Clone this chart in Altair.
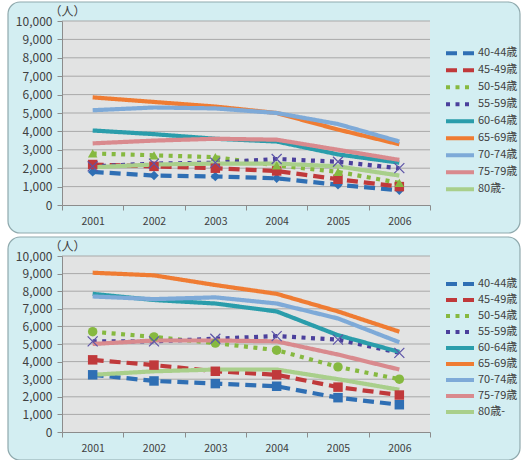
import altair as alt
import pandas as pd

years = [2001, 2002, 2003, 2004, 2005, 2006]
series = ['40-44歳', '45-49歳', '50-54歳', '55-59歳', '60-64歳',
          '65-69歳', '70-74歳', '75-79歳', '80歳-']
colors = ['#2f6fb4', '#c0393b', '#86b940', '#4b409c', '#2a9dab',
          '#ef7c33', '#7eaad8', '#d98a8e', '#a9cf8b']
dash_dashed = [11, 6]
dash_dotted = [4, 5.5]
dash_solid = [1, 0]
dashes = [dash_dashed, dash_dashed, dash_dotted, dash_dotted,
          dash_solid, dash_solid, dash_solid, dash_solid, dash_solid]

top_values = {
    '40-44歳': [1800, 1600, 1550, 1450, 1100, 800],
    '45-49歳': [2200, 2100, 2000, 1850, 1400, 1000],
    '50-54歳': [2800, 2700, 2600, 2150, 1800, 1200],
    '55-59歳': [2100, 2250, 2300, 2500, 2350, 2000],
    '60-64歳': [4050, 3850, 3600, 3450, 2750, 2300],
    '65-69歳': [5850, 5600, 5350, 5000, 4100, 3300],
    '70-74歳': [5150, 5300, 5250, 5000, 4400, 3450],
    '75-79歳': [3350, 3500, 3600, 3550, 3000, 2450],
    '80歳-':   [2050, 2200, 2250, 2250, 2100, 1600],
}
bottom_values = {
    '40-44歳': [3250, 2900, 2750, 2600, 1950, 1550],
    '45-49歳': [4100, 3800, 3450, 3250, 2550, 2100],
    '50-54歳': [5700, 5400, 5050, 4650, 3700, 3000],
    '55-59歳': [5150, 5150, 5300, 5450, 5250, 4500],
    '60-64歳': [7850, 7500, 7300, 6850, 5500, 4550],
    '65-69歳': [9050, 8900, 8350, 7850, 6850, 5700],
    '70-74歳': [7700, 7550, 7650, 7300, 6450, 5100],
    '75-79歳': [5000, 5200, 5200, 5150, 4400, 3550],
    '80歳-':   [3250, 3450, 3550, 3550, 3000, 2400],
}
top_markers = ['diamond', 'square', 'triangle-up']
bottom_markers = ['square', 'square', 'circle']
y_ticks = list(range(0, 10001, 1000))
x_ticks = [y - 0.5 for y in years] + [years[-1] + 0.5] + years
x_domain = [years[0] - 0.5, years[-1] + 0.5]

FONT = 'Noto Sans CJK JP'
PANEL_FILL = '#d3eef2'
PANEL_STROKE = '#8fa9ad'
PLOT_FILL = '#e2e3e3'
GRID = '#a9a9a9'
AXIS = '#8c8c8c'
TEXT = '#404040'
X_PATH = 'M-1,-1L1,1M-1,1L1,-1'
W = 368


def long_table(values):
    rows = []
    for s in series:
        for yr, v in zip(years, values[s]):
            rows.append({'year': yr, 'series': s, 'value': v})
    return pd.DataFrame(rows)


def panel(values, markers, H, legend_y, clip_h):
    df = long_table(values)
    xs = alt.Scale(domain=x_domain, nice=False, zero=False)
    ys = alt.Scale(domain=[0, 10000], nice=False)
    one = pd.DataFrame({'k': [0]})

    x_axis = alt.Axis(values=x_ticks, labelOverlap=False,
                      labelFlush=False, grid=False, zindex=1,
                      labelExpr="datum.value % 1 === 0 ? format(datum.value, 'd') : ''",
                      tickOpacity={'condition': {'test': 'datum.value % 1 === 0', 'value': 0}, 'value': 1},
                      tickSize=5, tickColor=AXIS, domainColor=AXIS,
                      labelPadding=6, labelFontSize=10.5,
                      labelColor=TEXT, labelFont=FONT, title=None)
    y_axis = alt.Axis(values=y_ticks, format=',d', grid=False, zindex=1,
                      labelOverlap=False, labelFlush=False,
                      tickSize=5, tickColor=AXIS, domainColor=AXIS,
                      labelPadding=5, labelFontSize=12,
                      labelColor=TEXT, labelFont=FONT,
                      title='（人）', titleAngle=0, titleAlign='left',
                      titleBaseline='bottom', titleX=-13, titleY=-3,
                      titleFontSize=12, titleFontWeight='normal',
                      titleColor=TEXT, titleFont=FONT)

    box = alt.Chart(one).mark_rect(
        cornerRadius=12, fill=PANEL_FILL, stroke=PANEL_STROKE,
        strokeWidth=1.2, clip=False
    ).encode(x=alt.value(-54), x2=alt.value(W + 90),
             y=alt.value(-19), y2=alt.value(H + 28))

    plot_bg = alt.Chart(one).mark_rect(fill=PLOT_FILL).encode(
        x=alt.value(0), x2=alt.value(W), y=alt.value(0), y2=alt.value(H))

    grid = alt.Chart(pd.DataFrame({'v': y_ticks[1:]})).mark_rule(
        color=GRID, strokeWidth=1
    ).encode(y=alt.Y('v:Q', scale=ys, axis=y_axis, title='（人）'),
             x=alt.value(0), x2=alt.value(W))

    base = alt.Chart(df)
    lines = base.mark_line(strokeWidth=4.2).encode(
        x=alt.X('year:Q', scale=xs, axis=x_axis, title=None),
        y=alt.Y('value:Q', scale=ys, axis=y_axis, title='（人）'),
        color=alt.Color('series:N', scale=alt.Scale(domain=series, range=colors),
                        legend=alt.Legend(title=None, orient='none',
                                          legendX=W + 14, legendY=legend_y,
                                          symbolType='stroke', symbolSize=784,
                                          symbolStrokeWidth=4, clipHeight=clip_h,
                                          rowPadding=2, labelOffset=2,
                                          labelFontSize=11, labelFont=FONT,
                                          labelColor=TEXT)),
        strokeDash=alt.StrokeDash('series:N',
                                  scale=alt.Scale(domain=series, range=dashes),
                                  legend=alt.Legend(title=None, orient='none',
                                                    legendX=W + 14, legendY=legend_y)),
        detail='series:N',
        order=alt.Order('year:Q'),
    )

    mk_series = series[:3]
    filled = base.transform_filter(
        alt.FieldOneOfPredicate(field='series', oneOf=mk_series)
    ).mark_point(filled=True, size=90, opacity=1, strokeWidth=0).encode(
        x=alt.X('year:Q', scale=xs, axis=x_axis, title=None),
        y=alt.Y('value:Q', scale=ys, axis=y_axis, title='（人）'),
        shape=alt.Shape('series:N', scale=alt.Scale(domain=mk_series, range=markers), legend=None),
        fill=alt.Fill('series:N', scale=alt.Scale(domain=mk_series, range=colors[:3]), legend=None),
    )
    crosses = base.transform_filter(
        alt.FieldEqualPredicate(field='series', equal=series[3])
    ).mark_point(shape=X_PATH, filled=False, size=100, strokeWidth=1.2,
                 color='#5d54a8', opacity=1).encode(
        x=alt.X('year:Q', scale=xs, axis=x_axis, title=None),
        y=alt.Y('value:Q', scale=ys, axis=y_axis, title='（人）'),
    )

    return alt.layer(box, plot_bg, grid, lines, filled, crosses).properties(
        width=W, height=H)


top = panel(top_values, top_markers, 184, 25, 14.4)
bottom = panel(bottom_values, bottom_markers, 176, 21, 13.75)

chart = alt.vconcat(top, bottom, spacing=51, bounds='flush').properties(
    padding={'left': 7, 'top': 1, 'right': 0, 'bottom': 0},
    background='white'
).configure_view(stroke=None).resolve_scale(
    color='independent', strokeDash='independent', shape='independent', fill='independent')

chart.save('out.html', embed_options={'renderer': 'svg', 'actions': False})
